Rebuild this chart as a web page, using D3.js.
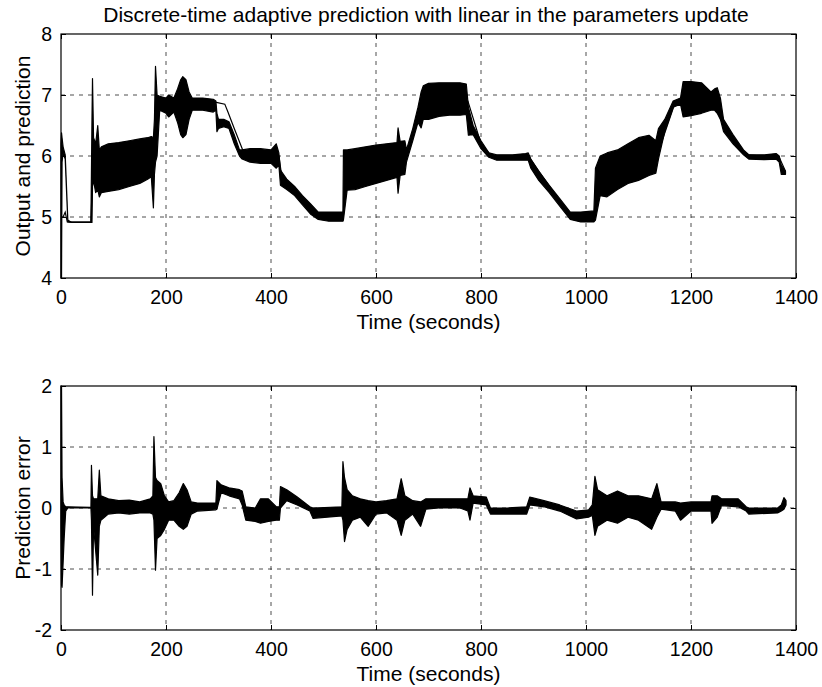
<!DOCTYPE html>
<html>
<head>
<meta charset="utf-8">
<script src="https://cdn.jsdelivr.net/npm/d3@7"></script>
<style>
  body { margin: 0; background: #fff; }
  svg { font-family: "Liberation Sans", Arial, Helvetica, sans-serif; }
</style>
</head>
<body>
<svg width="822" height="687"></svg>
<script>
// tick values
const xTicks = [0, 200, 400, 600, 800, 1000, 1200, 1400];
const yTicksTop = [4, 5, 6, 7, 8];
const yTicksBot = [-2, -1, 0, 1, 2];

const outT = [0, 1, 2, 4, 8, 13, 20, 57, 59, 60, 62, 66, 70, 73, 77, 90, 110, 130, 150, 165, 172, 176, 178, 180, 183, 188,
  200, 205, 215, 222, 228, 232, 238, 244, 250, 270, 290, 295, 297, 300, 310, 320, 330, 340, 345, 360, 380, 400, 410, 415,
  418, 430, 445, 460, 475, 490, 510, 537, 538, 545, 560, 580, 600, 620, 640, 642, 646, 655, 658, 670, 680, 686, 690, 700,
  720, 740, 760, 772, 776, 785, 800, 815, 830, 860, 885, 890, 895, 910, 930, 950, 970, 990, 1015, 1018, 1027, 1040, 1060,
  1080, 1100, 1120, 1133, 1138, 1150, 1166, 1180, 1185, 1200, 1220, 1238, 1245, 1250, 1256, 1262, 1280, 1300, 1310, 1340,
  1362, 1368, 1372, 1380];
const outLo = [4.0, 4.0, 5.9, 6.05, 5.95, 4.92, 4.91, 4.91, 4.91, 5.5, 5.6, 5.4, 5.45, 5.33, 5.4, 5.42, 5.45, 5.5, 5.55, 5.62, 5.66, 5.15, 5.7, 5.9, 6.0, 6.75,
  6.7, 6.64, 6.72, 6.55, 6.35, 6.3, 6.35, 6.6, 6.75, 6.75, 6.72, 6.75, 6.4, 6.45, 6.48, 6.45, 6.2, 6.0, 5.95, 5.9, 5.88, 5.88, 5.8, 5.85,
  5.52, 5.45, 5.35, 5.2, 5.05, 4.96, 4.93, 4.93, 4.95, 5.44, 5.45, 5.5, 5.55, 5.6, 5.65, 5.39, 5.68, 5.7, 5.9, 6.25, 6.55, 6.46, 6.6, 6.6,
  6.65, 6.67, 6.67, 6.68, 6.34, 6.35, 6.12, 5.98, 5.93, 5.93, 5.93, 5.93, 5.8, 5.6, 5.4, 5.18, 4.96, 4.92, 4.92, 4.95, 5.35, 5.33, 5.45,
  5.55, 5.6, 5.68, 5.72, 5.95, 6.4, 6.8, 6.85, 6.64, 6.66, 6.7, 6.75, 6.75, 6.7, 6.6, 6.4, 6.2, 6.02, 5.95, 5.94,
  5.95, 5.9, 5.7, 5.7];
const outHi = [6.2, 6.38, 6.3, 6.15, 6.02, 4.95, 4.91, 4.91, 6.6, 7.27, 6.3, 6.2, 6.5, 6.1, 6.15, 6.2, 6.22, 6.25, 6.28, 6.3, 6.32, 6.3, 6.6, 7.47, 7.0, 6.98,
  6.95, 7.0, 6.95, 7.1, 7.25, 7.3, 7.25, 7.05, 6.95, 6.95, 6.93, 6.9, 6.7, 6.6, 6.6, 6.56, 6.35, 6.1, 6.1, 6.12, 6.12, 6.1, 6.2, 6.05,
  5.77, 5.62, 5.5, 5.35, 5.22, 5.08, 5.08, 5.08, 6.1, 6.1, 6.12, 6.15, 6.18, 6.2, 6.22, 6.46, 6.24, 6.25, 6.1, 6.45, 6.8, 7.05, 7.15, 7.19,
  7.2, 7.2, 7.2, 7.18, 6.8, 6.5, 6.25, 6.05, 6.02, 6.02, 6.04, 6.05, 5.95, 5.75, 5.52, 5.3, 5.08, 5.08, 5.1, 5.8, 6.0, 6.05, 6.1,
  6.2, 6.3, 6.34, 6.25, 6.45, 6.6, 6.9, 6.95, 7.22, 7.22, 7.2, 7.05, 7.1, 7.12, 6.95, 6.6, 6.35, 6.1, 6.02, 6.02,
  6.04, 6.0, 5.85, 5.75];

// prediction, where it shows apart from the output
const predT = [0, 4, 8, 12, 57, 61, 80, 175, 185, 296, 312, 318, 330, 347, 415, 420, 490, 537, 545, 655, 690, 775, 800, 820,
  890, 970, 1017, 1030, 1135, 1170, 1250, 1256, 1264, 1305, 1368, 1380];
const predY = [5.0, 5.0, 5.08, 4.92, 4.92, 5.9, 5.8, 5.95, 6.9, 6.88, 6.85, 6.72, 6.45, 6.08, 6.0, 5.7, 5.02, 5.0, 5.8, 5.95, 6.85, 6.9, 6.2, 6.0,
  6.0, 5.02, 5.0, 5.7, 6.0, 6.88, 6.9, 6.78, 6.5, 6.02, 5.98, 5.75];

// prediction error band
const errT = [0, 1, 2, 4, 6, 9, 13, 57, 58, 60, 62, 70, 73, 76, 90, 110, 130, 150, 170, 175, 177, 180, 183, 190, 197, 205, 215,
  225, 233, 240, 248, 260, 295, 297, 305, 320, 340, 345, 352, 370, 380, 395, 410, 416, 418, 430, 450, 474, 480, 535, 537, 540,
  545, 555, 570, 585, 600, 620, 640, 648, 655, 670, 685, 695, 720, 760, 775, 779, 785, 810, 818, 850, 887, 893, 920, 950, 982,
  1005, 1012, 1017, 1022, 1040, 1060, 1080, 1100, 1125, 1135, 1143, 1170, 1180, 1200, 1238, 1240, 1250, 1258, 1290, 1305,
  1310, 1365, 1372, 1377, 1381];
const errLo = [-0.3, -1.26, -1.3, -0.9, -0.5, -0.05, 0, 0, -0.2, -1.43, -0.3, -1.1, -0.3, -0.2, -0.1, -0.08, -0.1, -0.08, -0.08, -0.1, -0.2, -1.02, -0.5, -0.45, -0.35, -0.2, -0.2,
  -0.3, -0.35, -0.3, -0.1, -0.05, -0.03, -0.02, 0.25, 0.2, 0.15, 0.05, -0.2, -0.22, -0.25, -0.22, -0.2, -0.2, 0.0, 0.12, 0.05, -0.05, -0.17, -0.13, -0.2, -0.55,
  -0.35, -0.2, -0.15, -0.3, -0.1, -0.08, -0.2, -0.45, -0.2, -0.1, -0.3, -0.02, 0.0, 0.0, -0.05, -0.2, 0.08, 0.05, -0.1, -0.1, -0.1, 0.05, 0.02, -0.05, -0.18,
  -0.15, -0.12, -0.45, -0.3, -0.2, -0.25, -0.15, -0.2, -0.35, -0.15, -0.02, -0.05, -0.2, -0.05, -0.05, -0.25, -0.15, 0.04, 0.02, -0.05,
  -0.1, -0.08, -0.05, -0.02, 0.05];
const errHi = [2.0, 2.0, 0.5, 0.1, 0.05, 0.02, 0.02, 0.01, 0.7, 0.2, 0.15, 0.15, 0.62, 0.2, 0.15, 0.12, 0.13, 0.1, 0.15, 0.2, 1.17, 0.5, 0.45, 0.4, 0.2, 0.1, 0.12,
  0.25, 0.4, 0.3, 0.1, 0.08, 0.08, 0.45, 0.38, 0.33, 0.3, 0.28, 0.02, 0.0, 0.15, 0.15, 0.02, 0.02, 0.35, 0.3, 0.18, 0.02, 0.0, 0.02, 0.76, 0.5,
  0.3, 0.2, 0.15, 0.12, 0.1, 0.12, 0.15, 0.48, 0.2, 0.12, 0.1, 0.15, 0.15, 0.15, 0.15, 0.33, 0.2, 0.18, 0.0, 0.0, 0.02, 0.18, 0.12, 0.05, -0.05,
  -0.03, 0.05, 0.52, 0.3, 0.2, 0.28, 0.2, 0.2, 0.15, 0.4, 0.1, 0.1, 0.08, 0.1, 0.1, 0.2, 0.2, 0.15, 0.15, 0.02,
  0.0, 0.0, 0.05, 0.17, 0.12];

const left = 61, right = 796;
const svg = d3.select('svg');

const x = d3.scaleLinear().domain([0, 1400]).range([left, right]);
const yTop = d3.scaleLinear().domain([4, 8]).range([278, 34]);
const yBot = d3.scaleLinear().domain([-2, 2]).range([630, 386]);

function drawPanel(y, yTicks, label) {
    const g = svg.append('g');
    const top = y.range()[1], bottom = y.range()[0];

    // dashed grid
    g.selectAll('.gx')
        .data(xTicks.slice(1, -1))
        .enter()
        .append('line')
        .attr('x1', d => x(d)).attr('x2', d => x(d))
        .attr('y1', top).attr('y2', bottom)
        .attr('stroke', '#222').attr('stroke-width', 0.8)
        .attr('stroke-dasharray', '4,5');
    g.selectAll('.gy')
        .data(yTicks.slice(1, -1))
        .enter()
        .append('line')
        .attr('x1', left).attr('x2', right)
        .attr('y1', d => y(d)).attr('y2', d => y(d))
        .attr('stroke', '#222').attr('stroke-width', 0.8)
        .attr('stroke-dasharray', '4,5');

    const fmt = d => String(d);   // plain hyphen minus, no separators
    const xAxis = d3.axisBottom(x).tickValues(xTicks).tickFormat(fmt).tickSize(-5).tickSizeOuter(0).tickPadding(12);
    const yAxis = d3.axisLeft(y).tickValues(yTicks).tickFormat(fmt).tickSize(-5).tickSizeOuter(0).tickPadding(9);

    g.append('g')
        .attr('transform', 'translate(0,' + bottom + ')')
        .call(xAxis);
    g.append('g')
        .attr('transform', 'translate(' + left + ',0)')
        .call(yAxis);
    // ticks on the opposite sides too
    g.append('g').attr('transform', 'translate(0,' + top + ')')
        .call(d3.axisTop(x).tickValues(xTicks).tickSize(-5).tickSizeOuter(0).tickFormat(''));
    g.append('g').attr('transform', 'translate(' + right + ',0)')
        .call(d3.axisRight(y).tickValues(yTicks).tickSize(-5).tickSizeOuter(0).tickFormat(''));

    g.selectAll('.domain').remove();
    g.selectAll('.tick line').attr('stroke', '#000');
    g.selectAll('.tick text').style('font-size', '19.5px').attr('fill', '#000');

    g.append('rect')
        .attr('x', left).attr('y', top)
        .attr('width', right - left).attr('height', bottom - top)
        .attr('fill', 'none').attr('stroke', '#000').attr('stroke-width', 1.2);

    g.append('text')
        .attr('x', (left + right) / 2)
        .attr('y', bottom + 51)
        .style('text-anchor', 'middle')
        .style('font-size', '21px')
        .text('Time (seconds)');

    g.append('text')
        .attr('transform', 'rotate(-90)')
        .attr('x', -(top + bottom) / 2)
        .attr('y', 30)
        .style('text-anchor', 'middle')
        .style('font-size', '21px')
        .text(label);
    return g;
}

const gTop = drawPanel(yTop, yTicksTop, 'Output and prediction');
const gBot = drawPanel(yBot, yTicksBot, 'Prediction error');

const outBand = d3.area()
    .x((d, i) => x(outT[i]))
    .y0((d, i) => yTop(outLo[i]))
    .y1((d, i) => yTop(outHi[i]));
gTop.append('path')
    .datum(outT)
    .attr('d', outBand)
    .attr('fill', '#000').attr('stroke', '#000').attr('stroke-width', 1.2)
    .attr('stroke-linejoin', 'round');

const predLine = d3.line()
    .x((d, i) => x(predT[i]))
    .y((d, i) => yTop(predY[i]));
gTop.append('path')
    .datum(predT)
    .attr('d', predLine)
    .attr('fill', 'none').attr('stroke', '#000').attr('stroke-width', 1.2);

const errBand = d3.area()
    .x((d, i) => x(errT[i]))
    .y0((d, i) => yBot(errLo[i]))
    .y1((d, i) => yBot(errHi[i]));
gBot.append('path')
    .datum(errT)
    .attr('d', errBand)
    .attr('fill', '#000').attr('stroke', '#000').attr('stroke-width', 1.2)
    .attr('stroke-linejoin', 'round');

svg.append('text')
    .attr('x', 426)
    .attr('y', 22)
    .style('text-anchor', 'middle')
    .style('font-size', '21px')
    .text('Discrete-time adaptive prediction with linear in the parameters update');
</script>
</body>
</html>
